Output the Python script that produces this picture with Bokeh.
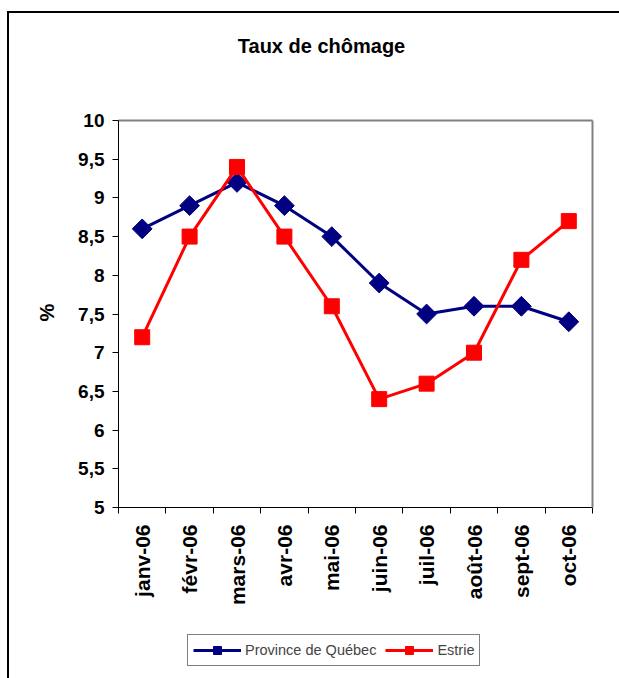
from bokeh.plotting import figure
from bokeh.models import (Range1d, FixedTicker, CustomJSTickFormatter, Legend, LegendItem,
                          LinearAxis, Label)
from bokeh.embed import file_html
from bokeh.resources import INLINE
import math

months = ["janv-06", "févr-06", "mars-06", "avr-06", "mai-06", "juin-06",
          "juil-06", "août-06", "sept-06", "oct-06"]
quebec = [8.6, 8.9, 9.2, 8.9, 8.5, 7.9, 7.5, 7.6, 7.6, 7.4]
estrie = [7.2, 8.5, 9.4, 8.5, 7.6, 6.4, 6.6, 7.0, 8.2, 8.7]
y_ticks = [5, 5.5, 6, 6.5, 7, 7.5, 8, 8.5, 9, 9.5, 10]
x_pos = list(range(1, len(months) + 1))
x_bounds = [i + 0.5 for i in range(0, len(months) + 1)]

FONT = "Liberation Sans"
NAVY = "#000080"
RED = "#FF0000"
GRAY = "#808080"

W, H = 619, 678
# plot area (page pixels): x 118..592, y 120..507 ; values 5..10, categories 0.5..10.5
PL, PR, PT, PB = 118, 592, 120, 507
XS = (PR - PL) / 10.0
YS = (PB - PT) / 5.0
x_range = Range1d(0.5 - PL / XS, 10.5 + (W - PR) / XS)
y_range = Range1d(5 - (H - PB) / YS, 10 + PT / YS)

p = figure(width=W, height=H, output_backend="svg", toolbar_location=None,
           x_range=x_range, y_range=y_range, min_border=0,
           background_fill_color=None, border_fill_color=None,
           outline_line_color=None, x_axis_type=None, y_axis_type=None)
p.styles = {
    "background": "linear-gradient(#000, #000) 8px 11px / 800px 2px no-repeat, "
                  "linear-gradient(#000, #000) 7px 11px / 2px 800px no-repeat, white"
}

# category axis at y=5
xaxis = LinearAxis(fixed_location=5, bounds=(0.5, 10.5),
                   ticker=FixedTicker(ticks=x_pos, minor_ticks=x_bounds),
                   formatter=CustomJSTickFormatter(args=dict(labels=months),
                                                   code="return labels[Math.round(tick)-1];"),
                   major_label_orientation=math.pi / 2,
                   major_tick_line_color=None, major_tick_out=6, major_tick_in=0,
                   minor_tick_line_color="black", minor_tick_out=6, minor_tick_in=0,
                   major_label_standoff=11, major_label_text_font=FONT,
                   major_label_text_font_style="bold", major_label_text_font_size="21px",
                   major_label_text_color="black", axis_line_color="black")
p.add_layout(xaxis, "below")

yaxis = LinearAxis(fixed_location=0.5, bounds=(5, 10),
                   ticker=FixedTicker(ticks=y_ticks, minor_ticks=[]),
                   formatter=CustomJSTickFormatter(code="return tick.toString().replace('.', ',');"),
                   major_tick_out=6, major_tick_in=0, major_tick_line_color="black",
                   minor_tick_line_color=None, major_label_standoff=8,
                   major_label_text_font=FONT, major_label_text_font_style="bold",
                   major_label_text_font_size="19px", major_label_text_color="black",
                   axis_line_color="black")
p.add_layout(yaxis, "left")

# grey plot-area border (top and right)
top_edge = LinearAxis(fixed_location=10, bounds=(0.5, 10.5), ticker=FixedTicker(ticks=[]),
                      axis_line_color=GRAY, axis_line_width=2,
                      major_tick_line_color=None, minor_tick_line_color=None,
                      major_label_text_font_size="0px")
right_edge = LinearAxis(fixed_location=10.5, bounds=(5, 10), ticker=FixedTicker(ticks=[]),
                        axis_line_color=GRAY, axis_line_width=2,
                        major_tick_line_color=None, minor_tick_line_color=None,
                        major_label_text_font_size="0px")
p.add_layout(top_edge, "above")
p.add_layout(right_edge, "right")

p.xgrid.grid_line_color = None
p.ygrid.ticker = FixedTicker(ticks=y_ticks)
p.ygrid.grid_line_color = "black"
p.ygrid.grid_line_width = 1
p.ygrid.bounds = (5, 10)
p.ygrid.cross_bounds = (0.5, 10.5)

# series
lq = p.line(x_pos, quebec, line_color=NAVY, line_width=3)
sq = p.scatter(x_pos, quebec, marker="square", angle=math.pi / 4, size=14,
               fill_color=NAVY, line_color=NAVY)
le = p.line(x_pos, estrie, line_color=RED, line_width=3)
se = p.scatter(x_pos, estrie, marker="square", size=15, fill_color=RED, line_color=RED)

legend = Legend(items=[LegendItem(label="Province de Québec", renderers=[lq, sq]),
                       LegendItem(label="Estrie", renderers=[le, se])],
                orientation="horizontal", location=(187, 12),
                label_text_font=FONT, label_text_font_size="14.5px",
                glyph_width=48, glyph_height=20, label_height=20, label_standoff=4,
                spacing=9, padding=5, margin=0, border_line_color="black",
                border_line_width=1, background_fill_color="white",
                background_fill_alpha=1)
p.add_layout(legend, "center")

title = Label(x=321, y=H - 45, x_units="screen", y_units="screen", text="Taux de chômage",
              text_font=FONT, text_font_style="bold", text_font_size="20px",
              text_align="center", text_baseline="middle", text_color="black")
ylabel = Label(x=46, y=H - 312, x_units="screen", y_units="screen", text="%", angle=math.pi / 2,
               text_font=FONT, text_font_style="bold", text_font_size="20px",
               text_align="center", text_baseline="middle", text_color="black")
p.add_layout(title)
p.add_layout(ylabel)

open("out.html", "w").write(file_html(p, INLINE))
